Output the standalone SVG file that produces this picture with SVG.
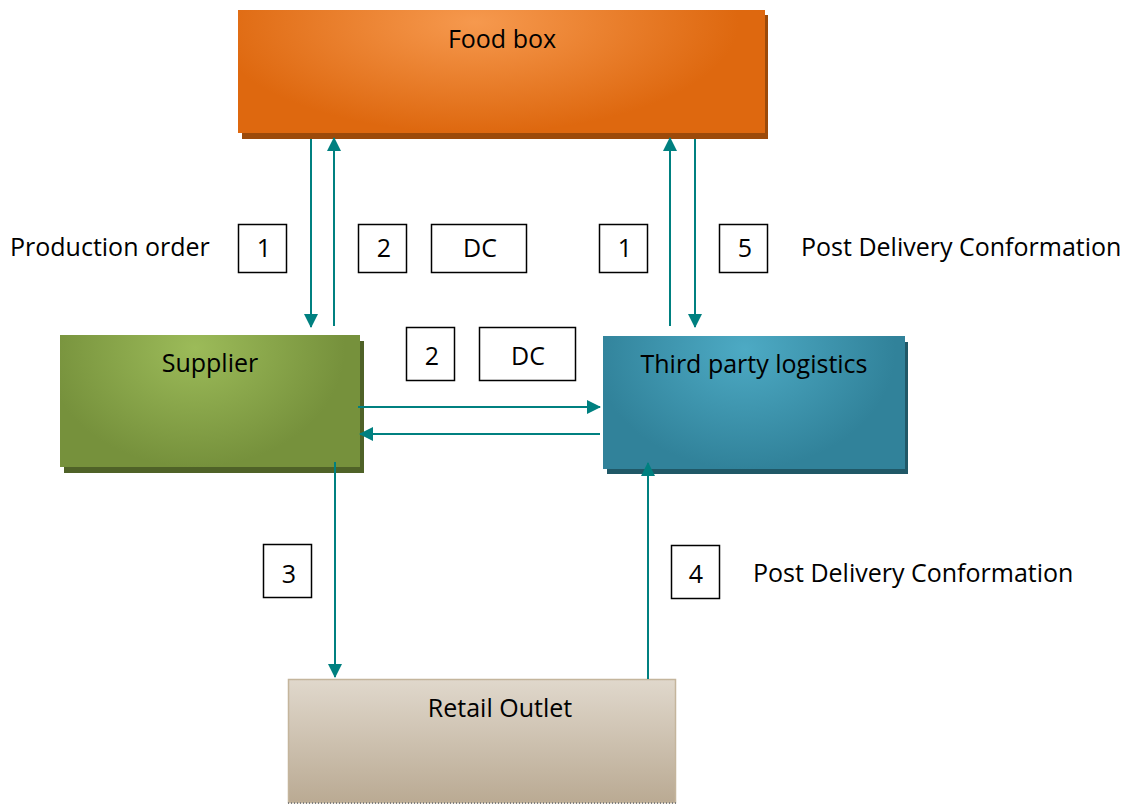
<svg xmlns="http://www.w3.org/2000/svg" width="1135" height="806" viewBox="0 0 1135 806">
<style>
text{font-family:"Open Sans","Liberation Sans",sans-serif;fill:#000}
.lbl{font-size:25px}
.nt{font-size:25px;text-anchor:middle}
.box{fill:#fff;stroke:#000;stroke-width:1.5}
.c{stroke:#008080;stroke-width:2;fill:none;marker-end:url(#ah)}
</style>
<defs>
<marker id="ah" markerWidth="14" markerHeight="14" refX="13" refY="7" orient="auto" markerUnits="userSpaceOnUse">
<path d="M0,0 L14,7 L0,14 Z" fill="#008080"/>
</marker>
<radialGradient id="gF" cx="0.45" cy="0.1" r="0.5" gradientTransform="translate(0.45,0.1) scale(1,1.8) translate(-0.45,-0.1)">
<stop offset="0" stop-color="#F6994E"/>
<stop offset="1" stop-color="#DE680F"/>
</radialGradient>
<radialGradient id="gS" cx="0.45" cy="0.1" r="0.5" gradientTransform="translate(0.45,0.1) scale(1,1.8) translate(-0.45,-0.1)">
<stop offset="0" stop-color="#9CBB59"/>
<stop offset="1" stop-color="#76913C"/>
</radialGradient>
<radialGradient id="gT" cx="0.47" cy="0.1" r="0.5" gradientTransform="translate(0.47,0.1) scale(1,1.8) translate(-0.47,-0.1)">
<stop offset="0" stop-color="#4DAAC4"/>
<stop offset="1" stop-color="#31829A"/>
</radialGradient>
<linearGradient id="gR" x1="0" y1="0" x2="0" y2="1">
<stop offset="0" stop-color="#E0D8CC"/>
<stop offset="1" stop-color="#BAAA93"/>
</linearGradient>
</defs>

<g id="foodbox">
<rect x="242" y="15" width="526" height="124" fill="#9C4A0A"/>
<rect x="238" y="10" width="527" height="123" fill="url(#gF)"/>
<text class="nt" x="502" y="48">Food box</text>
</g>

<g id="supplier">
<rect x="64" y="341" width="300" height="132" fill="#4F6228"/>
<rect x="60" y="335" width="300" height="132" fill="url(#gS)"/>
<text class="nt" x="210" y="372">Supplier</text>
</g>

<g id="tpl">
<rect x="607" y="342" width="301" height="132" fill="#205867"/>
<rect x="603" y="336" width="302" height="133" fill="url(#gT)"/>
<text class="nt" x="754" y="373">Third party logistics</text>
</g>

<g id="retail">
<rect x="288.5" y="679.5" width="387" height="123" fill="url(#gR)" stroke="#C4B59C" stroke-width="1.5"/>
<line x1="288" y1="803" x2="676" y2="803" stroke="#7F7F7F" stroke-width="2" stroke-dasharray="1,2"/>
<text class="nt" x="500" y="717">Retail Outlet</text>
</g>

<g id="labels">
<text class="lbl" x="10" y="256">Production order</text>
<text class="lbl" x="801" y="256">Post Delivery Conformation</text>
<text class="lbl" x="753" y="582">Post Delivery Conformation</text>
</g>

<g id="numboxes">
<rect class="box" x="238.5" y="224.5" width="48" height="48"/><text class="nt" x="264" y="257">1</text>
<rect class="box" x="358.5" y="224.5" width="48" height="48"/><text class="nt" x="384" y="257">2</text>
<rect class="box" x="431.5" y="224.5" width="95" height="48"/><text class="nt" x="480" y="257">DC</text>
<rect class="box" x="599.5" y="224.5" width="48" height="48"/><text class="nt" x="625" y="257">1</text>
<rect class="box" x="719.5" y="224.5" width="48" height="48"/><text class="nt" x="745" y="257">5</text>
<rect class="box" x="406.5" y="327.5" width="48" height="53"/><text class="nt" x="432" y="365">2</text>
<rect class="box" x="479.5" y="327.5" width="96" height="53"/><text class="nt" x="528" y="365">DC</text>
<rect class="box" x="263.5" y="544.5" width="48" height="53"/><text class="nt" x="289" y="583">3</text>
<rect class="box" x="671.5" y="545.5" width="48" height="53"/><text class="nt" x="696" y="583">4</text>
</g>

<g id="connectors">
<line class="c" x1="311" y1="139" x2="311" y2="327"/>
<line class="c" x1="334" y1="326" x2="334" y2="138"/>
<line class="c" x1="670" y1="326" x2="670" y2="138"/>
<line class="c" x1="695" y1="139" x2="695" y2="327"/>
<line class="c" x1="358" y1="407" x2="600" y2="407"/>
<line class="c" x1="600" y1="434" x2="360" y2="434"/>
<line class="c" x1="335" y1="462" x2="335" y2="677"/>
<line class="c" x1="648" y1="679" x2="648" y2="463"/>
</g>
</svg>
